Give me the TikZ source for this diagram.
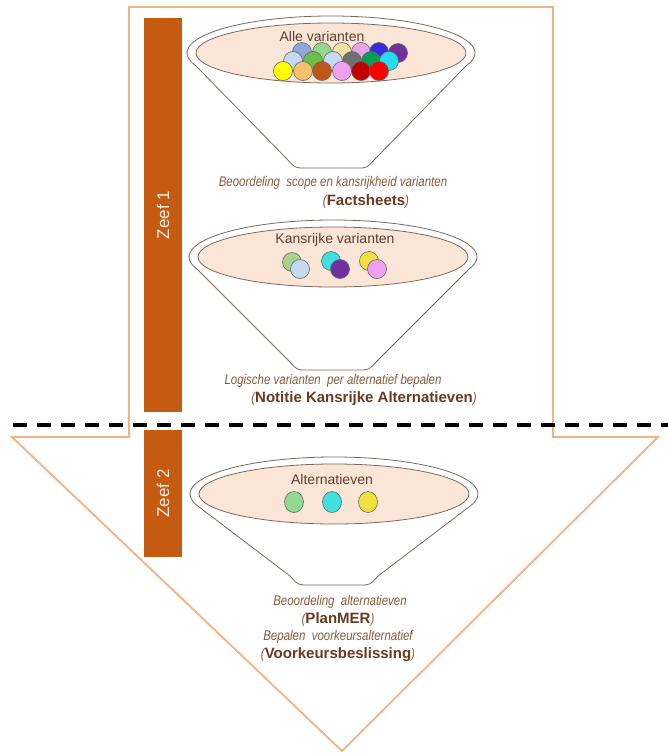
\documentclass[tikz,border=0pt]{standalone}
\usepackage{fontspec}
\setmainfont{Liberation Sans}
\newfontfamily\narrowfont[FakeStretch=0.82]{Liberation Sans}
\definecolor{arrowc}{HTML}{F4B183}
\definecolor{barc}{HTML}{C55A11}
\definecolor{peach}{HTML}{FBE5D6}
\definecolor{zeeft}{HTML}{FDEFE6}
\definecolor{func}{HTML}{7A6A5E}
\definecolor{itc}{HTML}{8A5A3C}
\definecolor{bdc}{HTML}{6A3A20}
\definecolor{labc}{HTML}{5E4030}
\tikzset{
  arrowline/.style={draw=arrowc, line width=1.8pt, line join=miter, fill=white},
  zeefbar/.style={fill=barc, draw=none, rotate=90, text=zeeft, inner sep=0pt,
    font=\fontsize{17}{19}\selectfont},
  funline/.style={draw=func, line width=0.8pt},
  ballline/.style={draw=black!60, line width=0.6pt},
  lab/.style={text=labc, font=\fontsize{14}{16}\selectfont, inner sep=0pt},
  ittext/.style={text=itc, font=\narrowfont\itshape\fontsize{14}{16}\selectfont, inner sep=0pt},
  sepline/.style={draw=black, line width=3.5pt, dash pattern=on 14pt off 10pt}
}
\newcommand\bd[1]{{\normalfont\bfseries\fontsize{15}{17}\selectfont\color{bdc}#1}}
\newcommand\funnelshape[3]{%
  \draw[funline, fill=white] ({#1+144*cos(160)},{#2+37*sin(160)})
    arc[start angle=160, end angle=380, x radius=144, y radius=37]
    -- ({#1+44},{#3-9}) .. controls ({#1+36},{#3}) .. ({#1+26},{#3})
    -- ({#1-26},{#3}) .. controls ({#1-36},{#3}) .. ({#1-44},{#3-9}) -- cycle;
  \draw[funline, fill=peach] (#1,#2) ellipse[x radius=135, y radius=30];
}
\newcommand\ball[3]{\definecolor{ballc}{HTML}{#3}\draw[ballline, fill=ballc] (#1,#2) circle[radius=9.5];}
\newcommand\eball[3]{\definecolor{ballc}{HTML}{#3}\draw[ballline, fill=ballc] (#1,#2) ellipse[x radius=9.5, y radius=10.5];}
\begin{document}
\begin{tikzpicture}[x=1pt, y=-1pt]
\useasboundingbox (0,0) rectangle (668,753);
% big arrow
\draw[arrowline] (129,7) -- (553,7) -- (553,437) -- (658,437) -- (342,751)
  -- (12,437) -- (129,437) -- cycle;
% bars
\node[zeefbar, minimum width=394pt, minimum height=38pt] (z1) at (163,215) {Zeef 1};
\node[zeefbar, minimum width=127pt, minimum height=38pt] (z2) at (163,493.5) {Zeef 2};
% funnel 1
\funnelshape{331}{53}{168}
\node[lab] (l1) at (322,36) {Alle varianten};
\ball{302}{52}{8EA9DB}
\ball{322}{52}{92D88F}
\ball{342}{52}{F2E2A0}
\ball{361}{52}{E6A6E8}
\ball{379}{52}{3A2BE0}
\ball{398}{53}{7030A0}
\ball{293}{61}{C5D9F1}
\ball{313}{61}{6CC04A}
\ball{333}{61}{C5D9F1}
\ball{352}{61}{707070}
\ball{371}{61}{00A050}
\ball{389}{61}{22E0F0}
\ball{283}{71}{FFFF00}
\ball{303}{71}{F5C26B}
\ball{322}{71}{C0571A}
\ball{342}{71}{F0A0F0}
\ball{361}{71}{C00000}
\ball{379}{71}{FF0000}
\node[ittext] (t1) at (333,183) {Beoordeling\ \ scope en kansrijkheid varianten};
\node[ittext] (t2) at (366,202) {(\bd{Factsheets})};
% funnel 2
\funnelshape{333}{257}{370}
\node[lab] (l2) at (335,240) {Kansrijke varianten};
\ball{292}{262}{A9D08E}
\ball{300}{269}{C5D9F1}
\ball{331}{261}{40E0E0}
\ball{340}{269}{7030A0}
\ball{369}{261}{F0E040}
\ball{377}{269}{F0A0F0}
\node[ittext] (t3) at (333,381) {Logische varianten\ \ per alternatief bepalen};
\node[ittext] (t4) at (364,399) {(\bd{Notitie Kansrijke Alternatieven})};
% funnel 3
\funnelshape{334}{494}{585}
\node[lab] (l3) at (332,479) {Alternatieven};
\eball{294}{502}{92D88F}
\eball{332}{502}{40E0E0}
\eball{368}{502}{F0E040}
\node[ittext] (t5) at (340,602) {Beoordeling\ \ alternatieven};
\node[ittext] (t6) at (338,620) {(\bd{PlanMER})};
\node[ittext] (t7) at (338,637) {Bepalen\ \ voorkeursalternatief};
\node[ittext] (t8) at (338,655) {(\bd{Voorkeursbeslissing})};
% separator
\coordinate (dl) at (13,425);
\coordinate (dr) at (668,425);
\draw[sepline] (dl) -- (dr);
\end{tikzpicture}
\end{document}
